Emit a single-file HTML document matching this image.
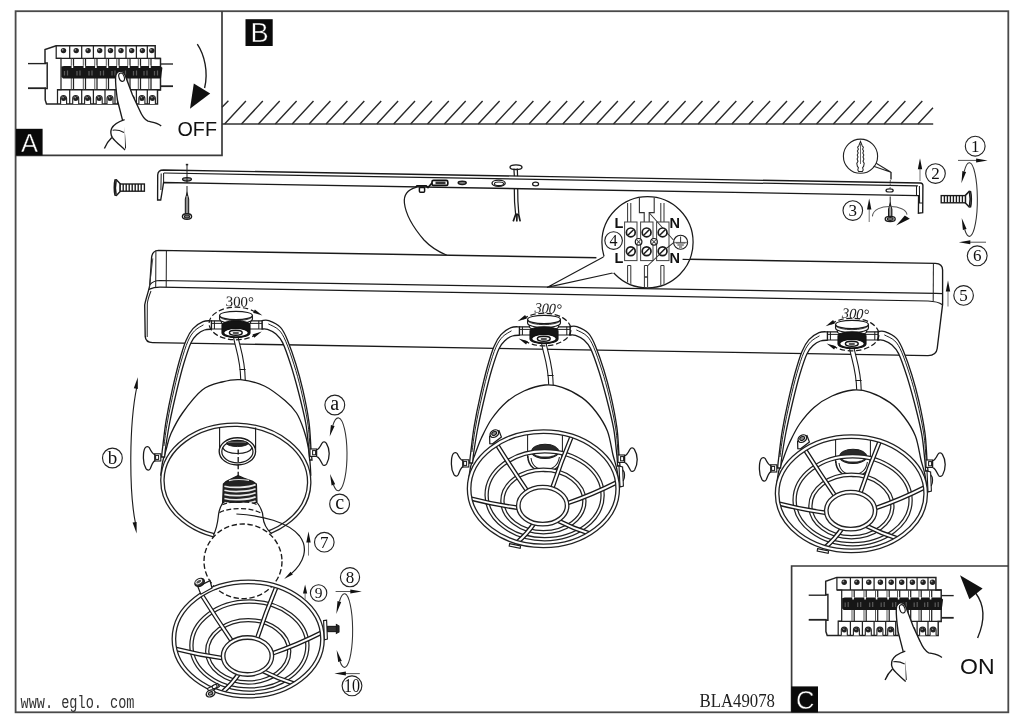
<!DOCTYPE html>
<html lang="en">
<head>
<meta charset="utf-8">
<title>BLA49078 assembly</title>
<style>
html,body{margin:0;padding:0;background:#fff;}
body{width:1024px;height:724px;overflow:hidden;font-family:"Liberation Sans",sans-serif;}
svg{display:block;}
</style>
</head>
<body>
<svg width="1024" height="724" viewBox="0 0 1024 724" style="will-change:transform">
<rect x="0" y="0" width="1024" height="724" fill="#fff"/>
<rect x="15.6" y="11.2" width="992.7" height="701.1" stroke="#4a4a4a" stroke-width="1.81" fill="none" />
<path d="M222,11 V155.3 H15.6" stroke="#3a3a3a" stroke-width="1.69" fill="none" />
<path d="M791.6,712 V566 H1008.3" stroke="#3a3a3a" stroke-width="1.69" fill="none" />
<rect x="16" y="128.8" width="26.6" height="26.6" stroke="none" stroke-width="0" fill="#0a0a0a" />
<text x="29.5" y="151.6" font-family="&quot;Liberation Sans&quot;, sans-serif" font-size="25.5" text-anchor="middle" fill="#fff" font-weight="normal" font-style="normal" stroke="#0a0a0a" stroke-width="0.45">A</text>
<rect x="245.5" y="19.2" width="27.2" height="26.8" stroke="none" stroke-width="0" fill="#0a0a0a" />
<text x="259.6" y="42.2" font-family="&quot;Liberation Sans&quot;, sans-serif" font-size="27.2" text-anchor="middle" fill="#fff" font-weight="normal" font-style="normal" stroke="#0a0a0a" stroke-width="0.45">B</text>
<rect x="791.2" y="686.4" width="26.8" height="26" stroke="none" stroke-width="0" fill="#0a0a0a" />
<text x="805.2" y="709" font-family="&quot;Liberation Sans&quot;, sans-serif" font-size="25.5" text-anchor="middle" fill="#fff" font-weight="normal" font-style="normal" stroke="#0a0a0a" stroke-width="0.45">C</text>
<text x="177.5" y="136.4" font-family="&quot;Liberation Sans&quot;, sans-serif" font-size="21" text-anchor="start" fill="#111" font-weight="normal" font-style="normal" textLength="39.5" lengthAdjust="spacingAndGlyphs" >OFF</text>
<text x="960" y="673.5" font-family="&quot;Liberation Sans&quot;, sans-serif" font-size="22.5" text-anchor="start" fill="#111" font-weight="normal" font-style="normal" textLength="34.5" lengthAdjust="spacingAndGlyphs" >ON</text>
<text x="20.5" y="707.5" font-family="&quot;Liberation Mono&quot;, monospace" font-size="17.5" text-anchor="start" fill="#333" font-weight="normal" font-style="normal" textLength="114" lengthAdjust="spacingAndGlyphs" >www. eglo. com</text>
<text x="699.5" y="706.8" font-family="&quot;Liberation Serif&quot;, serif" font-size="19" text-anchor="start" fill="#222" font-weight="normal" font-style="normal" textLength="75.5" lengthAdjust="spacingAndGlyphs" >BLA49078</text>
<line x1="222" y1="124" x2="933.2" y2="124" stroke="#333" stroke-width="1.7" />
<path d="M222,107.2 L228.4,100.8 M224.6,124 L245.9,101 M241.5,124 L262.8,101 M258.4,124 L279.7,101 M275.3,124 L296.6,101 M292.2,124 L313.5,101 M309.1,124 L330.4,101 M326.1,124 L347.4,101 M343,124 L364.3,101 M359.9,124 L381.2,101 M376.8,124 L398.1,101 M393.7,124 L415,101 M410.6,124 L431.9,101 M427.5,124 L448.8,101 M444.4,124 L465.7,101 M461.3,124 L482.6,101 M478.2,124 L499.6,101 M495.2,124 L516.5,101 M512.1,124 L533.4,101 M529,124 L550.3,101 M545.9,124 L567.2,101 M562.8,124 L584.1,101 M579.7,124 L601,101 M596.6,124 L617.9,101 M613.5,124 L634.8,101 M630.4,124 L651.7,101 M647.4,124 L668.6,101 M664.3,124 L685.6,101 M681.2,124 L702.5,101 M698.1,124 L719.4,101 M715,124 L736.3,101 M731.9,124 L753.2,101 M748.8,124 L770.1,101 M765.7,124 L787,101 M782.6,124 L803.9,101 M799.5,124 L820.8,101 M816.5,124 L837.8,101 M833.4,124 L854.7,101 M850.3,124 L871.6,101 M867.2,124 L888.5,101 M884.1,124 L905.4,101 M901,124 L922.3,101 M917.9,124 L933,107.7" stroke="#2a2a2a" stroke-width="1.41" fill="none" />
<line x1="28" y1="63.6" x2="46" y2="63.6" stroke="#222" stroke-width="1.36" />
<line x1="28" y1="88.2" x2="46" y2="88.2" stroke="#222" stroke-width="1.8" />
<line x1="159" y1="64" x2="173" y2="64" stroke="#222" stroke-width="1.36" />
<line x1="158" y1="86.2" x2="173" y2="86.2" stroke="#222" stroke-width="1.8" />
<path d="M56.2,45.8 L45,49.6 V63 H47.2 V88.6 H45.2 V100 L46.5,104 H157.5 V90 H160.5 V58.4 H155.2 V45.8 Z" stroke="#222" stroke-width="1.47" fill="#fff" />
<path d="M56.2,45.8 V58.4 H61 V89.6 H57.5 V104" stroke="#222" stroke-width="1.24" fill="none" />
<line x1="56.2" y1="58.4" x2="160.5" y2="58.4" stroke="#222" stroke-width="1.36" />
<line x1="57.5" y1="89.8" x2="160.5" y2="89.8" stroke="#222" stroke-width="1.36" />
<path d="M69.7,45.8 V58.4 M81.7,45.8 V58.4 M93.4,45.8 V58.4 M105,45.8 V58.4 M115,45.8 V58.4 M126,45.8 V58.4 M136.4,45.8 V58.4 M147.3,45.8 V58.4 M69.7,89.8 V104 M81.7,89.8 V104 M93.4,89.8 V104 M105,89.8 V104 M115,89.8 V104 M126,89.8 V104 M136.4,89.8 V104 M147.3,89.8 V104 M73.5,58.4 V66 M73.5,78 V89.8 M85.5,58.4 V66 M85.5,78 V89.8 M97,58.4 V66 M97,78 V89.8 M108.5,58.4 V66 M108.5,78 V89.8 M119,58.4 V66 M119,78 V89.8 M130,58.4 V66 M130,78 V89.8 M140.5,58.4 V66 M140.5,78 V89.8 M151,58.4 V66 M151,78 V89.8" stroke="#222" stroke-width="1.24" fill="none" />
<path d="M71.3,58.4 V66 M71.3,78 V89.8 M83.3,58.4 V66 M83.3,78 V89.8 M94.8,58.4 V66 M94.8,78 V89.8 M106.3,58.4 V66 M106.3,78 V89.8 M116.8,58.4 V66 M116.8,78 V89.8 M127.8,58.4 V66 M127.8,78 V89.8 M138.3,58.4 V66 M138.3,78 V89.8 M148.8,58.4 V66 M148.8,78 V89.8" stroke="#444" stroke-width="0.9" fill="none" />
<path d="M61.4,66.6 L64,66 H160 L162.4,67.8 L161,78.4 H63 L61.4,76.8 Z" stroke="none" stroke-width="0" fill="#161616" />
<path d="M64.5,71 v4.5 M67.5,70.5 v5 M77,71 v4.5 M80,70.5 v5 M89,71 v4.5 M92,70.5 v5 M100.5,71 v4.5 M103.5,70.5 v5 M112,71 v4.5 M115,70.5 v5 M122.5,71 v4.5 M125.5,70.5 v5 M133.5,71 v4.5 M136.5,70.5 v5 M144,71 v4.5 M147,70.5 v5 M154.5,71 v4.5 M157.5,70.5 v5" stroke="#5a5a5a" stroke-width="1.24" fill="none" />
<path d="M72.4,65.4 v2.6 M84.4,65.4 v2.6 M95.9,65.4 v2.6 M107.4,65.4 v2.6 M117.9,65.4 v2.6 M128.9,65.4 v2.6 M139.4,65.4 v2.6 M149.9,65.4 v2.6" stroke="#fff" stroke-width="1.6" fill="none" />
<circle cx="63.5" cy="50.6" r="2.7" stroke="none" stroke-width="0" fill="#222" />
<circle cx="62.7" cy="49.8" r="0.9" stroke="none" stroke-width="0" fill="#999" />
<circle cx="76.2" cy="50.6" r="2.7" stroke="none" stroke-width="0" fill="#222" />
<circle cx="75.4" cy="49.8" r="0.9" stroke="none" stroke-width="0" fill="#999" />
<circle cx="88.1" cy="50.6" r="2.7" stroke="none" stroke-width="0" fill="#222" />
<circle cx="87.3" cy="49.8" r="0.9" stroke="none" stroke-width="0" fill="#999" />
<circle cx="99.7" cy="50.6" r="2.7" stroke="none" stroke-width="0" fill="#222" />
<circle cx="98.9" cy="49.8" r="0.9" stroke="none" stroke-width="0" fill="#999" />
<circle cx="110.5" cy="50.6" r="2.7" stroke="none" stroke-width="0" fill="#222" />
<circle cx="109.7" cy="49.8" r="0.9" stroke="none" stroke-width="0" fill="#999" />
<circle cx="121" cy="50.6" r="2.7" stroke="none" stroke-width="0" fill="#222" />
<circle cx="120.2" cy="49.8" r="0.9" stroke="none" stroke-width="0" fill="#999" />
<circle cx="131.7" cy="50.6" r="2.7" stroke="none" stroke-width="0" fill="#222" />
<circle cx="130.9" cy="49.8" r="0.9" stroke="none" stroke-width="0" fill="#999" />
<circle cx="142.4" cy="50.6" r="2.7" stroke="none" stroke-width="0" fill="#222" />
<circle cx="141.6" cy="49.8" r="0.9" stroke="none" stroke-width="0" fill="#999" />
<circle cx="151.8" cy="50.6" r="2.7" stroke="none" stroke-width="0" fill="#222" />
<circle cx="150.9" cy="49.8" r="0.9" stroke="none" stroke-width="0" fill="#999" />
<path d="M60.6,104 V98.5 a3,3 0 0 1 6,0 V104" stroke="#222" stroke-width="1.13" fill="#fff" />
<circle cx="63.6" cy="98.4" r="2.5" stroke="none" stroke-width="0" fill="#222" />
<circle cx="63.1" cy="97.6" r="0.8" stroke="none" stroke-width="0" fill="#999" />
<path d="M72.7,104 V98.5 a3,3 0 0 1 6,0 V104" stroke="#222" stroke-width="1.13" fill="#fff" />
<circle cx="75.7" cy="98.4" r="2.5" stroke="none" stroke-width="0" fill="#222" />
<circle cx="75.2" cy="97.6" r="0.8" stroke="none" stroke-width="0" fill="#999" />
<path d="M84.6,104 V98.5 a3,3 0 0 1 6,0 V104" stroke="#222" stroke-width="1.13" fill="#fff" />
<circle cx="87.6" cy="98.4" r="2.5" stroke="none" stroke-width="0" fill="#222" />
<circle cx="87.1" cy="97.6" r="0.8" stroke="none" stroke-width="0" fill="#999" />
<path d="M96.2,104 V98.5 a3,3 0 0 1 6,0 V104" stroke="#222" stroke-width="1.13" fill="#fff" />
<circle cx="99.2" cy="98.4" r="2.5" stroke="none" stroke-width="0" fill="#222" />
<circle cx="98.7" cy="97.6" r="0.8" stroke="none" stroke-width="0" fill="#999" />
<path d="M107,104 V98.5 a3,3 0 0 1 6,0 V104" stroke="#222" stroke-width="1.13" fill="#fff" />
<circle cx="110" cy="98.4" r="2.5" stroke="none" stroke-width="0" fill="#222" />
<circle cx="109.5" cy="97.6" r="0.8" stroke="none" stroke-width="0" fill="#999" />
<path d="M117.5,104 V98.5 a3,3 0 0 1 6,0 V104" stroke="#222" stroke-width="1.13" fill="#fff" />
<circle cx="120.5" cy="98.4" r="2.5" stroke="none" stroke-width="0" fill="#222" />
<circle cx="120" cy="97.6" r="0.8" stroke="none" stroke-width="0" fill="#999" />
<path d="M128.2,104 V98.5 a3,3 0 0 1 6,0 V104" stroke="#222" stroke-width="1.13" fill="#fff" />
<circle cx="131.2" cy="98.4" r="2.5" stroke="none" stroke-width="0" fill="#222" />
<circle cx="130.7" cy="97.6" r="0.8" stroke="none" stroke-width="0" fill="#999" />
<path d="M138.9,104 V98.5 a3,3 0 0 1 6,0 V104" stroke="#222" stroke-width="1.13" fill="#fff" />
<circle cx="141.9" cy="98.4" r="2.5" stroke="none" stroke-width="0" fill="#222" />
<circle cx="141.4" cy="97.6" r="0.8" stroke="none" stroke-width="0" fill="#999" />
<path d="M149.4,104 V98.5 a3,3 0 0 1 6,0 V104" stroke="#222" stroke-width="1.13" fill="#fff" />
<circle cx="152.4" cy="98.4" r="2.5" stroke="none" stroke-width="0" fill="#222" />
<circle cx="151.9" cy="97.6" r="0.8" stroke="none" stroke-width="0" fill="#999" />
<path d="M118.2,72.6 C119.5,70.4 123,70.6 124.4,73.2 L132.5,95 L139.5,110 C142,116 144.5,119.5 148,121.2 C152.5,122.3 157.5,122.6 161.2,126 L161,150 L126,150 L125.2,143 C124.6,134 123.6,127 122.4,119.6 L117.4,100 C116,90 115.4,82 115.6,77.4 C115.8,75 116.8,73.6 118.2,72.6 Z" stroke="none" stroke-width="0" fill="#fff" />
<path d="M125.4,148.5 C125,137 123.6,127 122.4,119.6 L117.4,100 C116,90 115.4,82 115.6,77.4 C115.8,73 117.5,71.2 120.2,71.2 C123,71.2 124,72.6 125,75 L132.5,95 L139.5,110 C142,116 144.5,119.5 148,121.2 C152.5,122.3 157.5,122.6 161.2,126" stroke="#1a1a1a" stroke-width="1.36" fill="none" />
<ellipse cx="121.6" cy="77.2" rx="2.6" ry="4.3" stroke="#1a1a1a" stroke-width="1.13" fill="#fff" transform="rotate(-18 121.6 77.2)" />
<path d="M124.6,119.6 C119,121.5 113.5,124.5 111.6,128.5 C110.4,131.5 110.6,134.6 112.4,137.6 C115.5,142 121,146 125,150" stroke="#1a1a1a" stroke-width="1.36" fill="#fff" />
<path d="M112.6,130.2 C116.5,129.6 120.5,130.6 124,132.4" stroke="#1a1a1a" stroke-width="1.13" fill="none" />
<path d="M111.8,137.4 C108.5,140.5 106,144.5 104.4,148.4" stroke="#1a1a1a" stroke-width="1.36" fill="none" />
<path d="M197.3,44.2 C204.5,55 208.5,72 204.6,88" stroke="#1a1a1a" stroke-width="1.36" fill="none" />
<polygon points="193.8,83.6 210.2,93.6 190,108.8" fill="#111"/>
<g transform="translate(780.7,531.6)">
<line x1="28" y1="63.6" x2="46" y2="63.6" stroke="#222" stroke-width="1.36" />
<line x1="28" y1="88.2" x2="46" y2="88.2" stroke="#222" stroke-width="1.8" />
<line x1="159" y1="64" x2="173" y2="64" stroke="#222" stroke-width="1.36" />
<line x1="158" y1="86.2" x2="173" y2="86.2" stroke="#222" stroke-width="1.8" />
<path d="M56.2,45.8 L45,49.6 V63 H47.2 V88.6 H45.2 V100 L46.5,104 H157.5 V90 H160.5 V58.4 H155.2 V45.8 Z" stroke="#222" stroke-width="1.47" fill="#fff" />
<path d="M56.2,45.8 V58.4 H61 V89.6 H57.5 V104" stroke="#222" stroke-width="1.24" fill="none" />
<line x1="56.2" y1="58.4" x2="160.5" y2="58.4" stroke="#222" stroke-width="1.36" />
<line x1="57.5" y1="89.8" x2="160.5" y2="89.8" stroke="#222" stroke-width="1.36" />
<path d="M69.7,45.8 V58.4 M81.7,45.8 V58.4 M93.4,45.8 V58.4 M105,45.8 V58.4 M115,45.8 V58.4 M126,45.8 V58.4 M136.4,45.8 V58.4 M147.3,45.8 V58.4 M69.7,89.8 V104 M81.7,89.8 V104 M93.4,89.8 V104 M105,89.8 V104 M115,89.8 V104 M126,89.8 V104 M136.4,89.8 V104 M147.3,89.8 V104 M73.5,58.4 V66 M73.5,78 V89.8 M85.5,58.4 V66 M85.5,78 V89.8 M97,58.4 V66 M97,78 V89.8 M108.5,58.4 V66 M108.5,78 V89.8 M119,58.4 V66 M119,78 V89.8 M130,58.4 V66 M130,78 V89.8 M140.5,58.4 V66 M140.5,78 V89.8 M151,58.4 V66 M151,78 V89.8" stroke="#222" stroke-width="1.24" fill="none" />
<path d="M71.3,58.4 V66 M71.3,78 V89.8 M83.3,58.4 V66 M83.3,78 V89.8 M94.8,58.4 V66 M94.8,78 V89.8 M106.3,58.4 V66 M106.3,78 V89.8 M116.8,58.4 V66 M116.8,78 V89.8 M127.8,58.4 V66 M127.8,78 V89.8 M138.3,58.4 V66 M138.3,78 V89.8 M148.8,58.4 V66 M148.8,78 V89.8" stroke="#444" stroke-width="0.9" fill="none" />
<path d="M61.4,66.6 L64,66 H160 L162.4,67.8 L161,78.4 H63 L61.4,76.8 Z" stroke="none" stroke-width="0" fill="#161616" />
<path d="M64.5,71 v4.5 M67.5,70.5 v5 M77,71 v4.5 M80,70.5 v5 M89,71 v4.5 M92,70.5 v5 M100.5,71 v4.5 M103.5,70.5 v5 M112,71 v4.5 M115,70.5 v5 M122.5,71 v4.5 M125.5,70.5 v5 M133.5,71 v4.5 M136.5,70.5 v5 M144,71 v4.5 M147,70.5 v5 M154.5,71 v4.5 M157.5,70.5 v5" stroke="#5a5a5a" stroke-width="1.24" fill="none" />
<path d="M72.4,65.4 v2.6 M84.4,65.4 v2.6 M95.9,65.4 v2.6 M107.4,65.4 v2.6 M117.9,65.4 v2.6 M128.9,65.4 v2.6 M139.4,65.4 v2.6 M149.9,65.4 v2.6" stroke="#fff" stroke-width="1.6" fill="none" />
<circle cx="63.5" cy="50.6" r="2.7" stroke="none" stroke-width="0" fill="#222" />
<circle cx="62.7" cy="49.8" r="0.9" stroke="none" stroke-width="0" fill="#999" />
<circle cx="76.2" cy="50.6" r="2.7" stroke="none" stroke-width="0" fill="#222" />
<circle cx="75.4" cy="49.8" r="0.9" stroke="none" stroke-width="0" fill="#999" />
<circle cx="88.1" cy="50.6" r="2.7" stroke="none" stroke-width="0" fill="#222" />
<circle cx="87.3" cy="49.8" r="0.9" stroke="none" stroke-width="0" fill="#999" />
<circle cx="99.7" cy="50.6" r="2.7" stroke="none" stroke-width="0" fill="#222" />
<circle cx="98.9" cy="49.8" r="0.9" stroke="none" stroke-width="0" fill="#999" />
<circle cx="110.5" cy="50.6" r="2.7" stroke="none" stroke-width="0" fill="#222" />
<circle cx="109.7" cy="49.8" r="0.9" stroke="none" stroke-width="0" fill="#999" />
<circle cx="121" cy="50.6" r="2.7" stroke="none" stroke-width="0" fill="#222" />
<circle cx="120.2" cy="49.8" r="0.9" stroke="none" stroke-width="0" fill="#999" />
<circle cx="131.7" cy="50.6" r="2.7" stroke="none" stroke-width="0" fill="#222" />
<circle cx="130.9" cy="49.8" r="0.9" stroke="none" stroke-width="0" fill="#999" />
<circle cx="142.4" cy="50.6" r="2.7" stroke="none" stroke-width="0" fill="#222" />
<circle cx="141.6" cy="49.8" r="0.9" stroke="none" stroke-width="0" fill="#999" />
<circle cx="151.8" cy="50.6" r="2.7" stroke="none" stroke-width="0" fill="#222" />
<circle cx="150.9" cy="49.8" r="0.9" stroke="none" stroke-width="0" fill="#999" />
<path d="M60.6,104 V98.5 a3,3 0 0 1 6,0 V104" stroke="#222" stroke-width="1.13" fill="#fff" />
<circle cx="63.6" cy="98.4" r="2.5" stroke="none" stroke-width="0" fill="#222" />
<circle cx="63.1" cy="97.6" r="0.8" stroke="none" stroke-width="0" fill="#999" />
<path d="M72.7,104 V98.5 a3,3 0 0 1 6,0 V104" stroke="#222" stroke-width="1.13" fill="#fff" />
<circle cx="75.7" cy="98.4" r="2.5" stroke="none" stroke-width="0" fill="#222" />
<circle cx="75.2" cy="97.6" r="0.8" stroke="none" stroke-width="0" fill="#999" />
<path d="M84.6,104 V98.5 a3,3 0 0 1 6,0 V104" stroke="#222" stroke-width="1.13" fill="#fff" />
<circle cx="87.6" cy="98.4" r="2.5" stroke="none" stroke-width="0" fill="#222" />
<circle cx="87.1" cy="97.6" r="0.8" stroke="none" stroke-width="0" fill="#999" />
<path d="M96.2,104 V98.5 a3,3 0 0 1 6,0 V104" stroke="#222" stroke-width="1.13" fill="#fff" />
<circle cx="99.2" cy="98.4" r="2.5" stroke="none" stroke-width="0" fill="#222" />
<circle cx="98.7" cy="97.6" r="0.8" stroke="none" stroke-width="0" fill="#999" />
<path d="M107,104 V98.5 a3,3 0 0 1 6,0 V104" stroke="#222" stroke-width="1.13" fill="#fff" />
<circle cx="110" cy="98.4" r="2.5" stroke="none" stroke-width="0" fill="#222" />
<circle cx="109.5" cy="97.6" r="0.8" stroke="none" stroke-width="0" fill="#999" />
<path d="M117.5,104 V98.5 a3,3 0 0 1 6,0 V104" stroke="#222" stroke-width="1.13" fill="#fff" />
<circle cx="120.5" cy="98.4" r="2.5" stroke="none" stroke-width="0" fill="#222" />
<circle cx="120" cy="97.6" r="0.8" stroke="none" stroke-width="0" fill="#999" />
<path d="M128.2,104 V98.5 a3,3 0 0 1 6,0 V104" stroke="#222" stroke-width="1.13" fill="#fff" />
<circle cx="131.2" cy="98.4" r="2.5" stroke="none" stroke-width="0" fill="#222" />
<circle cx="130.7" cy="97.6" r="0.8" stroke="none" stroke-width="0" fill="#999" />
<path d="M138.9,104 V98.5 a3,3 0 0 1 6,0 V104" stroke="#222" stroke-width="1.13" fill="#fff" />
<circle cx="141.9" cy="98.4" r="2.5" stroke="none" stroke-width="0" fill="#222" />
<circle cx="141.4" cy="97.6" r="0.8" stroke="none" stroke-width="0" fill="#999" />
<path d="M149.4,104 V98.5 a3,3 0 0 1 6,0 V104" stroke="#222" stroke-width="1.13" fill="#fff" />
<circle cx="152.4" cy="98.4" r="2.5" stroke="none" stroke-width="0" fill="#222" />
<circle cx="151.9" cy="97.6" r="0.8" stroke="none" stroke-width="0" fill="#999" />
<path d="M118.2,72.6 C119.5,70.4 123,70.6 124.4,73.2 L132.5,95 L139.5,110 C142,116 144.5,119.5 148,121.2 C152.5,122.3 157.5,122.6 161.2,126 L161,150 L126,150 L125.2,143 C124.6,134 123.6,127 122.4,119.6 L117.4,100 C116,90 115.4,82 115.6,77.4 C115.8,75 116.8,73.6 118.2,72.6 Z" stroke="none" stroke-width="0" fill="#fff" />
<path d="M125.4,148.5 C125,137 123.6,127 122.4,119.6 L117.4,100 C116,90 115.4,82 115.6,77.4 C115.8,73 117.5,71.2 120.2,71.2 C123,71.2 124,72.6 125,75 L132.5,95 L139.5,110 C142,116 144.5,119.5 148,121.2 C152.5,122.3 157.5,122.6 161.2,126" stroke="#1a1a1a" stroke-width="1.36" fill="none" />
<ellipse cx="121.6" cy="77.2" rx="2.6" ry="4.3" stroke="#1a1a1a" stroke-width="1.13" fill="#fff" transform="rotate(-18 121.6 77.2)" />
<path d="M124.6,119.6 C119,121.5 113.5,124.5 111.6,128.5 C110.4,131.5 110.6,134.6 112.4,137.6 C115.5,142 121,146 125,150" stroke="#1a1a1a" stroke-width="1.36" fill="#fff" />
<path d="M112.6,130.2 C116.5,129.6 120.5,130.6 124,132.4" stroke="#1a1a1a" stroke-width="1.13" fill="none" />
<path d="M111.8,137.4 C108.5,140.5 106,144.5 104.4,148.4" stroke="#1a1a1a" stroke-width="1.36" fill="none" />
</g>
<path d="M977.6,638 C984.5,622 985.5,606 975.6,593" stroke="#1a1a1a" stroke-width="1.36" fill="none" />
<polygon points="960,575.3 982.6,588.4 969.4,599.2" fill="#111"/>
<ellipse cx="516" cy="167.2" rx="6" ry="2.3" stroke="#1a1a1a" stroke-width="1.36" fill="#fff" />
<path d="M513.9,168.6 L514.4,177 M517.3,168.6 L517.6,177" stroke="#1a1a1a" stroke-width="1.24" fill="none" />
<path d="M163.5,170 L920.4,183 Q922.9,183.2 922.9,185.6 L922.7,212.6 L918.4,213.2 L918.6,195.6 L163.6,182.5 L162.4,190 L160.7,200 L157.6,200 L157.7,175 Q157.9,170 163.5,170 Z" stroke="#1a1a1a" stroke-width="1.36" fill="#fff" />
<path d="M163.8,173 L917.9,185.9" stroke="#1a1a1a" stroke-width="1.24" fill="none" />
<path d="M163.6,173 V182.5 M161.2,173.4 L160.9,190" stroke="#1a1a1a" stroke-width="1.02" fill="none" />
<path d="M916.5,186 V195.6 M919.4,186 L919.6,203 M918.6,203 h4.2" stroke="#1a1a1a" stroke-width="1.02" fill="none" />
<ellipse cx="187" cy="179.3" rx="4.4" ry="1.7" stroke="#1a1a1a" stroke-width="1.36" fill="#999" />
<ellipse cx="462.2" cy="182.8" rx="4" ry="1.6" stroke="#1a1a1a" stroke-width="1.47" fill="#888" />
<ellipse cx="498.6" cy="183.2" rx="6.6" ry="3.1" stroke="#1a1a1a" stroke-width="1.36" fill="#fff" />
<ellipse cx="499" cy="183.8" rx="4.6" ry="1.8" stroke="#1a1a1a" stroke-width="1.02" fill="#fff" />
<ellipse cx="535.6" cy="184" rx="3" ry="1.9" stroke="#1a1a1a" stroke-width="1.24" fill="#fff" />
<ellipse cx="889.6" cy="190.4" rx="3.6" ry="1.6" stroke="#1a1a1a" stroke-width="1.24" fill="#fff" />
<rect x="432" y="180.4" width="15.8" height="5" stroke="#111" stroke-width="1.69" fill="#fff" rx="1.5"/>
<rect x="435.5" y="181.6" width="10" height="2.5" stroke="none" stroke-width="0" fill="#333" />
<path d="M415.6,187.6 L417,185.8 H426.2 L428,187.6 L432,183" stroke="#111" stroke-width="1.69" fill="none" />
<rect x="419.4" y="187.4" width="5.2" height="4.8" stroke="#111" stroke-width="1.47" fill="#fff" rx="1"/>
<path d="M416,187.4 C407,190 403.6,196 404.4,203 C405.4,212 412,226 424,240 C431,247.5 439,252 446.8,255.2" stroke="#1a1a1a" stroke-width="1.24" fill="none" />
<path d="M514.3,188.6 C514.2,198 514.6,206 515.6,214 M517.7,188.6 C517.6,198 518,206 518.8,213.6" stroke="#1a1a1a" stroke-width="1.24" fill="none" />
<path d="M516,213.5 L513.2,221.4 M517,213.5 L516.8,221.6 M518.4,213.5 L520.2,221.4" stroke="#1a1a1a" stroke-width="1.69" fill="none" />
<g transform="translate(114.4,187.6) scale(1,1)">
<path d="M0.6,-7.6 C-0.4,-4 -0.4,4 0.6,7.6 L2,7.8 L5.8,3.8 L5.8,-3.8 L2,-7.8 Z" stroke="#1a1a1a" stroke-width="1.47" fill="#fff" />
<path d="M1.7,-7 C1,-3.5 1,3.5 1.7,7" stroke="#1a1a1a" stroke-width="1.58" fill="none" />
<rect x="5.8" y="-3.6" width="24.2" height="7.2" stroke="#1a1a1a" stroke-width="1.36" fill="#fff" />
<path d="M8.8,-3.6 v7.2 M11.8,-3.6 v7.2 M14.8,-3.6 v7.2 M17.8,-3.6 v7.2 M20.8,-3.6 v7.2 M23.8,-3.6 v7.2 M26.8,-3.6 v7.2" stroke="#1a1a1a" stroke-width="1.36" fill="none" />
</g>
<g transform="translate(971.2,199.2) scale(-1,1)">
<path d="M0.6,-7.6 C-0.4,-4 -0.4,4 0.6,7.6 L2,7.8 L5.8,3.8 L5.8,-3.8 L2,-7.8 Z" stroke="#1a1a1a" stroke-width="1.47" fill="#fff" />
<path d="M1.7,-7 C1,-3.5 1,3.5 1.7,7" stroke="#1a1a1a" stroke-width="1.58" fill="none" />
<rect x="5.8" y="-3.6" width="24.2" height="7.2" stroke="#1a1a1a" stroke-width="1.36" fill="#fff" />
<path d="M8.8,-3.6 v7.2 M11.8,-3.6 v7.2 M14.8,-3.6 v7.2 M17.8,-3.6 v7.2 M20.8,-3.6 v7.2 M23.8,-3.6 v7.2 M26.8,-3.6 v7.2" stroke="#1a1a1a" stroke-width="1.36" fill="none" />
</g>
<line x1="187" y1="164.4" x2="187" y2="183" stroke="#222" stroke-width="1.02" />
<line x1="185.8" y1="164.6" x2="188.2" y2="164.6" stroke="#222" stroke-width="1.58" />
<line x1="187" y1="186" x2="187" y2="195" stroke="#222" stroke-width="1.02" />
<path d="M187,193 L188.7,199 V214 H185.3 V199 Z" stroke="#1a1a1a" stroke-width="1.02" fill="#555" />
<line x1="187" y1="196" x2="187" y2="213.5" stroke="#ddd" stroke-width="0.9" />
<ellipse cx="187" cy="216.5" rx="4.6" ry="2.7" stroke="#1a1a1a" stroke-width="1.36" fill="#fff" />
<ellipse cx="187" cy="216.5" rx="2.6" ry="1.5" stroke="#1a1a1a" stroke-width="1.02" fill="#777" />
<circle cx="860.5" cy="156.2" r="17.1" stroke="#222" stroke-width="1.13" fill="#fff" />
<path d="M860.5,141.4 L862.3,146 L863.4,147.2 L862.6,149.2 L863.6,151 L862.8,153 L863.8,155 L863,157 L863.9,159 L863,161.2 L864.2,163.4 L863.6,166.4 L862.6,167.6 L863.2,170 L862.4,171.4 H858.6 L857.8,170 L858.4,167.6 L857.4,166.4 L856.8,163.4 L858,161.2 L857.1,159 L858,157 L857.2,155 L858.2,153 L857.4,151 L858.4,149.2 L857.6,147.2 L858.7,146 Z" stroke="#222" stroke-width="1.02" fill="#fff" />
<line x1="860.5" y1="143.5" x2="860.5" y2="164" stroke="#555" stroke-width="0.9" />
<path d="M873.6,166.2 L891,172.2 L876.2,163.2" stroke="#222" stroke-width="1.02" fill="none" />
<line x1="891" y1="172" x2="891" y2="179.4" stroke="#222" stroke-width="1.36" />
<line x1="890.3" y1="180" x2="890.1" y2="188.6" stroke="#444" stroke-width="0.9" stroke-dasharray="2 1.5"/>
<line x1="890.2" y1="196.4" x2="890.2" y2="205.4" stroke="#222" stroke-width="1.02" />
<path d="M890.2,203.4 L891.9,209.4 V216.5 H888.5 V209.4 Z" stroke="#1a1a1a" stroke-width="1.02" fill="#555" />
<line x1="890.2" y1="206.4" x2="890.2" y2="216" stroke="#ddd" stroke-width="0.9" />
<ellipse cx="890.2" cy="219" rx="5" ry="2.6" stroke="#1a1a1a" stroke-width="1.36" fill="#fff" />
<ellipse cx="890.2" cy="219" rx="3" ry="1.4" stroke="#1a1a1a" stroke-width="1.02" fill="#777" />
<path d="M158.5,250.4 L935.4,263.4 Q942.6,263.8 942.6,270 L942.6,304.4 L937.2,348.5 Q936.4,355.4 928,355.6 L152.5,342.6 Q145.6,342.4 145.2,336.4 L144.7,305 C146,298 148.8,291 149.8,285 L151.6,257.5 Q152.4,250.6 158.5,250.4 Z" stroke="#1a1a1a" stroke-width="1.36" fill="#fff" />
<path d="M150,284.6 C152,282 155,280.6 160,280.5 L936,293.4 L942.6,293.6" stroke="#1a1a1a" stroke-width="1.24" fill="none" />
<path d="M148.8,289.4 C152,288 155,287.2 160,287.2 L928,301 Q938,301.4 942.4,304.8" stroke="#1a1a1a" stroke-width="1.24" fill="none" />
<path d="M155.9,250.6 L155.7,287.2 M166.4,250.6 L166.2,287.3" stroke="#222" stroke-width="1.02" fill="none" />
<path d="M933.4,263.4 L933.2,301" stroke="#222" stroke-width="1.02" fill="none" />
<path d="M152.8,258.4 L149.4,287" stroke="#333" stroke-width="0.9" fill="none" />
<path d="M151,291 C149,296 147.6,300 147.3,304 L147.2,337" stroke="#222" stroke-width="1.02" fill="none" />
<path d="M596.4,257.8 L604,257.9" stroke="#fff" stroke-width="2.6" fill="none" />
<g transform="translate(-308,-6)">
<path d="M543.6,341 C544.6,352 550.6,362 551,386" stroke="#1a1a1a" stroke-width="5.6" fill="none"/><path d="M543.6,341 C544.6,352 550.6,362 551,386" stroke="#fff" stroke-width="3.4" fill="none"/>
<line x1="547.6" y1="375.6" x2="553.6" y2="375.4" stroke="#1a1a1a" stroke-width="1.02" />
<path d="M468.8,481 C469.1,478.8 469.7,472.2 470.6,468 C471.5,463.8 472.6,460.7 474,456 C475.4,451.3 476.2,445.8 479,439.6 C481.8,433.4 485.3,426.3 490.5,419 C495.7,411.7 503.6,401.2 510.2,396 C516.8,390.8 523.6,389.7 530,388 C536.4,386.3 541.4,385 548.5,385.7 C555.6,386.4 565,388.5 572.4,392 C579.8,395.5 587.6,402 593,406.5 C598.4,411 601.4,414.2 604.5,419 C607.6,423.8 609.8,430 611.7,435.5 C613.6,441 615,446.6 616,452 C617,457.4 617.5,463.2 618,468 C618.5,472.8 618.7,478.8 618.8,481 Z" stroke="#1a1a1a" stroke-width="1.3" fill="#fff" />
<path d="M519.5,326.8 C518.1,326.9 514.1,326.3 511,327.6 C507.9,328.9 503.8,331.5 501,334.6 C498.2,337.7 496.3,340.9 494,346.4 C491.7,351.9 489.5,359.3 487.2,367.5 C484.9,375.7 482.5,385.9 480.3,395.7 C478.1,405.5 475.8,416.8 474.2,426.2 C472.6,435.6 471.6,445.9 470.8,452 C470,458.1 469.8,461.2 469.6,463 L472.6,463 C472.8,461.2 472.9,457.8 473.8,452 C474.7,446.2 476,437.2 477.8,428 C479.6,418.8 482.5,406.2 484.8,396.5 C487.1,386.8 489.4,377.5 491.8,369.5 C494.2,361.5 496.7,353.6 499,348.7 C501.3,343.8 503.2,342.3 505.4,340.2 C507.6,338.1 510,336.8 512.4,336 C514.8,335.2 518.3,335.3 519.5,335.2 Z" stroke="#1a1a1a" stroke-width="1.3" fill="#fff" />
<path d="M511.5,330.8 C510.1,331.8 505.3,334 502.7,336.7 C500.1,339.5 498.2,342 495.9,347.3 C493.6,352.5 491.3,360.1 488.9,368.3 C486.6,376.4 484.2,386.2 482,396 C479.8,405.8 477.2,417.6 475.6,426.9 C473.9,436.2 472.5,447.8 471.9,452" stroke="#1a1a1a" stroke-width="0.96" fill="none" />
<path d="M570,326.6 C571.1,326.6 573.7,325.5 576.8,326.6 C579.9,327.7 585.4,330.1 588.5,333.4 C591.6,336.7 593.1,340.3 595.6,346.4 C598.1,352.5 601.3,361.6 603.8,369.8 C606.3,378 608.6,386.1 610.8,395.7 C613,405.3 615.5,417.7 616.9,427.6 C618.3,437.5 618.5,448.6 619,455 C619.5,461.4 619.8,464.2 620,466 L617.6,466 C617.5,464.2 617.5,461.3 616.8,455 C616.1,448.7 615.4,438.1 613.6,428.4 C611.8,418.7 608.7,406.6 606.2,397 C603.7,387.4 601.4,379.1 598.8,371 C596.2,362.9 593.1,353.8 590.6,348.6 C588.1,343.4 586.5,342.2 584,340 C581.5,337.8 577.8,336.2 575.5,335.4 C573.2,334.6 570.9,335.1 570,335 Z" stroke="#1a1a1a" stroke-width="1.3" fill="#fff" />
<path d="M576.3,329.9 C578.1,330.9 583.9,333 586.8,335.9 C589.7,338.8 591.2,341.5 593.7,347.2 C596.2,353 599.3,362.1 601.9,370.3 C604.5,378.4 606.8,386.6 609.1,396.2 C611.3,405.8 614.1,418.1 615.6,427.9 C617.2,437.7 617.7,450.5 618.2,455" stroke="#1a1a1a" stroke-width="0.96" fill="none" />
<path d="M519.5,326.8 H570 V335 H519.5 Z" stroke="#1a1a1a" stroke-width="1.24" fill="#fff" />
<line x1="519.5" y1="329.4" x2="570" y2="329.4" stroke="#1a1a1a" stroke-width="0.96" />
<path d="M522.4,326.8 V335 M566.8,326.8 V335" stroke="#1a1a1a" stroke-width="1.02" fill="none" />
<g transform="translate(0,2)">
<path d="M529.4,323.4 V326.4 A14.6,4.4 0 0 0 558.6,326.4 V323.4" stroke="#1a1a1a" stroke-width="1.13" fill="#fff" />
<path d="M527.6,319.4 V323 A16.4,4.6 0 0 0 560.4,323 V319.4" stroke="#1a1a1a" stroke-width="1.24" fill="#fff" />
<ellipse cx="544" cy="319.4" rx="16.4" ry="4.1" stroke="#1a1a1a" stroke-width="1.24" fill="#fff" />
<path d="M528.2,321.2 A16.2,4.4 0 0 0 559.8,321.2" stroke="#1a1a1a" stroke-width="0.9" fill="none" />
</g>
<path d="M530,331 V339 A14,4.6 0 0 0 558,339 V331 A14,4.2 0 0 0 530,331 Z" stroke="#111" stroke-width="1.13" fill="#141414" />
<ellipse cx="544" cy="338.7" rx="12.4" ry="4.3" stroke="#111" stroke-width="1.36" fill="#fff" />
<ellipse cx="543.8" cy="338.7" rx="6.4" ry="2.5" stroke="#111" stroke-width="1.47" fill="#fff" />
<ellipse cx="543.8" cy="338.9" rx="3.2" ry="1.2" stroke="none" stroke-width="0" fill="#555" />
<path d="M564.7,340 A27,16.3 0 1 1 564.7,319" stroke="#1a1a1a" stroke-width="1.24" fill="none" stroke-dasharray="5.5 2.6"/>
<polygon points="570.4,321.6 561.1,318.8 562.9,315.5" fill="#111"/>
<polygon points="569.8,337.6 562.3,343.7 560.5,340.4" fill="#111"/>
<rect x="462.6" y="459.8" width="6.2" height="7.2" stroke="#1a1a1a" stroke-width="1.13" fill="#fff" />
<rect x="463.6" y="461.4" width="3" height="4" stroke="#1a1a1a" stroke-width="1.02" fill="#fff" />
<path d="M462.8,460.6 C460.4,460 458.8,456.6 457.4,453.8 C456.4,452 454.2,452.2 453,454 C451.2,457.2 451.4,460.6 451.4,464.2 C451.4,468 452.2,471.6 454,474.6 C455.2,476.4 457.2,476.6 458.2,474.8 C459.8,471.6 460.4,467.6 462.8,466.8 Z" stroke="#1a1a1a" stroke-width="1.3" fill="#fff" />
<rect x="618" y="455" width="6.6" height="7.4" stroke="#1a1a1a" stroke-width="1.13" fill="#fff" />
<rect x="620.6" y="456.6" width="3" height="4.2" stroke="#1a1a1a" stroke-width="1.02" fill="#fff" />
<path d="M624.6,456 C627,455.4 628.6,452 630,449.2 C631,447.4 633.2,447.6 634.4,449.4 C636.4,452.6 637.2,456 637.2,459.6 C637.2,463.4 636.4,467 634.6,470 C633.4,471.8 631.4,472 630.4,470.2 C628.8,467 627,463.2 624.6,462.4 Z" stroke="#1a1a1a" stroke-width="1.3" fill="#fff" />
<ellipse cx="543.8" cy="487.4" rx="73.4" ry="56.6" stroke="#222" stroke-width="4.6" fill="#fff" transform="rotate(1.5 543.8 487.4)"/><ellipse cx="543.8" cy="487.4" rx="73.4" ry="56.6" stroke="#fff" stroke-width="2.0" fill="none" transform="rotate(1.5 543.8 487.4)"/>
<path d="M527.6,433.6 V456 M563.6,433.6 V456" stroke="#1a1a1a" stroke-width="1.13" fill="none" />
<ellipse cx="545.4" cy="457.4" rx="18.2" ry="13.6" stroke="#1a1a1a" stroke-width="1.36" fill="#fff" />
<ellipse cx="545.4" cy="457.6" rx="15.6" ry="11.2" stroke="#1a1a1a" stroke-width="1.24" fill="#fff" />
<path d="M534,449.4 C537,445.8 553.6,445.8 556.6,449.4 C553,453.6 538,453.6 534,449.4 Z" stroke="#1a1a1a" stroke-width="0.9" fill="#222" />
<path d="M530.4,453.6 C535,461.4 556,461.4 560.4,453.6" stroke="#1a1a1a" stroke-width="1.13" fill="none" />
<path d="M536,448.2 h18" stroke="#777" stroke-width="1.02" fill="stroke-dasharray="1.2 1"" />
</g>
<line x1="238.2" y1="449.5" x2="238.2" y2="476" stroke="#1a1a1a" stroke-width="1.36" stroke-dasharray="5 2.4"/>
<path d="M238.2,475.6 L233,478 L226,481.6 L223.4,484 L222.6,503 L257,503 L256.4,484 L252.6,481.4 L243.6,478 Z" stroke="#1a1a1a" stroke-width="1.24" fill="#222" />
<path d="M224.4,486.2 C232,488.2 248,487.8 255.6,484.6 M224.4,490.3 C232,492.3 248,491.9 255.6,488.7 M224.4,494.4 C232,496.4 248,496 255.6,492.8 M224.4,498.5 C232,500.5 248,500.1 255.6,496.9 M224.4,502.6 C232,504.6 248,504.2 255.6,501" stroke="#e8e8e8" stroke-width="1.69" fill="none" />
<path d="M229,480.6 C234,479.4 243,479.4 249,480.4" stroke="#ddd" stroke-width="1.24" fill="none" />
<ellipse cx="243" cy="561.3" rx="39" ry="37.3" stroke="none" stroke-width="0" fill="#fff" />
<path d="M222.6,503 C220.4,507 219,510.6 218.6,514 C217.8,520 217.8,526 213.4,535.4 L271.6,534 C265.6,528 263.4,523 263,517 C262.8,512 260.4,507 257.4,503 Z" stroke="none" stroke-width="0" fill="#fff" />
<path d="M222.6,503 C220.4,507 219,510.6 218.6,514 C217.8,520 217.8,526 213.4,535.4" stroke="#1a1a1a" stroke-width="1.24" fill="none" />
<path d="M257.4,503 C260.4,507 262.8,512 263,517 C263.4,523 265.6,528 271.6,534" stroke="#1a1a1a" stroke-width="1.24" fill="none" />
<path d="M222.4,504.6 C232,500.6 249,500.6 258,505" stroke="#1a1a1a" stroke-width="1.24" fill="none" stroke-dasharray="5 2.4"/>
<path d="M219.4,512.6 C230,507 252,507 262.6,514" stroke="#1a1a1a" stroke-width="1.24" fill="none" stroke-dasharray="5 2.4"/>
<ellipse cx="243" cy="561.3" rx="39" ry="37.3" stroke="#1a1a1a" stroke-width="1.36" fill="none" stroke-dasharray="5.4 2.6"/>
<g>
<rect x="327.6" y="626.4" width="9" height="5.2" stroke="#1a1a1a" stroke-width="1.13" fill="#333" />
<path d="M336.4,624.6 L339,626 V632 L336.4,633.4 Z" stroke="#1a1a1a" stroke-width="1.13" fill="#222" />
</g>
<g transform="translate(-295.2,150.3)">
<ellipse cx="544.6" cy="495.2" rx="58" ry="44" stroke="#222" stroke-width="4.4" fill="none"/><ellipse cx="544.6" cy="495.2" rx="58" ry="44" stroke="#fff" stroke-width="1.9" fill="none"/>
<ellipse cx="543.4" cy="501" rx="41" ry="31.2" stroke="#222" stroke-width="4.4" fill="none"/><ellipse cx="543.4" cy="501" rx="41" ry="31.2" stroke="#fff" stroke-width="1.9" fill="none"/>
<path d="M527.4,491.3 Q511.5,468 496.7,444.3" stroke="#1a1a1a" stroke-width="4.6" fill="none"/><path d="M527.4,491.3 Q511.5,468 496.7,444.3" stroke="#fff" stroke-width="2.0" fill="none"/>
<path d="M552.1,488.6 Q561,462 571.9,435.9" stroke="#1a1a1a" stroke-width="4.6" fill="none"/><path d="M552.1,488.6 Q561,462 571.9,435.9" stroke="#fff" stroke-width="2.0" fill="none"/>
<path d="M518.5,507.9 Q494,504.6 470.2,498.4" stroke="#1a1a1a" stroke-width="4.6" fill="none"/><path d="M518.5,507.9 Q494,504.6 470.2,498.4" stroke="#fff" stroke-width="2.0" fill="none"/>
<path d="M566.9,503.4 Q593,494.4 617.2,482.1" stroke="#1a1a1a" stroke-width="4.6" fill="none"/><path d="M566.9,503.4 Q593,494.4 617.2,482.1" stroke="#fff" stroke-width="2.0" fill="none"/>
<path d="M534.4,523.1 Q527,534 517.4,542.2" stroke="#1a1a1a" stroke-width="4.6" fill="none"/><path d="M534.4,523.1 Q527,534 517.4,542.2" stroke="#fff" stroke-width="2.0" fill="none"/>
<path d="M557.4,520.4 Q573,528.4 589.5,533.5" stroke="#1a1a1a" stroke-width="4.6" fill="none"/><path d="M557.4,520.4 Q573,528.4 589.5,533.5" stroke="#fff" stroke-width="2.0" fill="none"/>
<ellipse cx="543.4" cy="488.7" rx="74.3" ry="57.1" stroke="#222" stroke-width="4.8" fill="none"/><ellipse cx="543.4" cy="488.7" rx="74.3" ry="57.1" stroke="#fff" stroke-width="2.2" fill="none"/>
<ellipse cx="542.7" cy="505.7" rx="24.4" ry="18.5" stroke="#222" stroke-width="4.8" fill="#fff"/><ellipse cx="542.7" cy="505.7" rx="24.4" ry="18.5" stroke="#fff" stroke-width="2.2" fill="none"/>
</g>
<path d="M323.6,620.6 L326.6,620.2 L327.4,639 L324.4,639.8 Z" stroke="#1a1a1a" stroke-width="1.13" fill="#fff" />
<path d="M197.8,586.6 L210,580.6 L212,588 L200.8,594.2 Z" stroke="#1a1a1a" stroke-width="1.24" fill="#fff" />
<ellipse cx="199.6" cy="582.4" rx="5" ry="3.6" stroke="#1a1a1a" stroke-width="1.47" fill="#333" transform="rotate(-30 199.6 582.4)" />
<ellipse cx="198.8" cy="581.6" rx="3.2" ry="1.8" stroke="#fff" stroke-width="0.9" fill="#555" transform="rotate(-30 198.8 581.6)" />
<path d="M207.4,688.6 L217.6,683.4 L219.4,686.6 L209.4,692.4 Z" stroke="#1a1a1a" stroke-width="1.13" fill="#fff" />
<ellipse cx="210.6" cy="693.4" rx="4.6" ry="3.2" stroke="#1a1a1a" stroke-width="1.36" fill="#fff" transform="rotate(-25 210.6 693.4)" />
<ellipse cx="210.6" cy="693.4" rx="2.4" ry="1.5" stroke="#1a1a1a" stroke-width="1.02" fill="#999" transform="rotate(-25 210.6 693.4)" />
<ellipse cx="214.6" cy="686.6" rx="2.6" ry="1.8" stroke="#1a1a1a" stroke-width="1.13" fill="#fff" transform="rotate(-25 214.6 686.6)" />
<g transform="translate(0,0)">
<path d="M543.6,341 C544.6,352 550.6,362 551,386" stroke="#1a1a1a" stroke-width="5.6" fill="none"/><path d="M543.6,341 C544.6,352 550.6,362 551,386" stroke="#fff" stroke-width="3.4" fill="none"/>
<line x1="547.6" y1="375.6" x2="553.6" y2="375.4" stroke="#1a1a1a" stroke-width="1.02" />
<path d="M468.6,480 C469,477.7 469.7,470.3 470.8,466 C471.9,461.7 473.2,459.1 475,454.4 C476.8,449.7 478.6,443.9 481.4,438 C484.2,432.1 487.5,424.9 491.6,419 C495.7,413.1 500.6,407.1 506,402.4 C511.4,397.7 517.5,393.9 524,391 C530.5,388.1 538.7,385.6 545,385 C551.3,384.4 555.8,385.2 562,387.3 C568.2,389.4 576.3,393.5 582,397.6 C587.7,401.7 592,406.4 596.2,412 C600.4,417.6 604.6,423.8 607.4,431 C610.2,438.2 611.4,448.7 613,455 C614.6,461.3 615.9,464.5 616.8,469 C617.7,473.5 618.3,479.8 618.6,482 Z" stroke="#1a1a1a" stroke-width="1.3" fill="#fff" />
<path d="M519.5,326.8 C518.1,326.9 514.1,326.3 511,327.6 C507.9,328.9 503.8,331.5 501,334.6 C498.2,337.7 496.3,340.9 494,346.4 C491.7,351.9 489.5,359.3 487.2,367.5 C484.9,375.7 482.5,385.9 480.3,395.7 C478.1,405.5 475.8,416.8 474.2,426.2 C472.6,435.6 471.6,445.9 470.8,452 C470,458.1 469.8,461.2 469.6,463 L472.6,463 C472.8,461.2 472.9,457.8 473.8,452 C474.7,446.2 476,437.2 477.8,428 C479.6,418.8 482.5,406.2 484.8,396.5 C487.1,386.8 489.4,377.5 491.8,369.5 C494.2,361.5 496.7,353.6 499,348.7 C501.3,343.8 503.2,342.3 505.4,340.2 C507.6,338.1 510,336.8 512.4,336 C514.8,335.2 518.3,335.3 519.5,335.2 Z" stroke="#1a1a1a" stroke-width="1.3" fill="#fff" />
<path d="M511.5,330.8 C510.1,331.8 505.3,334 502.7,336.7 C500.1,339.5 498.2,342 495.9,347.3 C493.6,352.5 491.3,360.1 488.9,368.3 C486.6,376.4 484.2,386.2 482,396 C479.8,405.8 477.2,417.6 475.6,426.9 C473.9,436.2 472.5,447.8 471.9,452" stroke="#1a1a1a" stroke-width="0.96" fill="none" />
<path d="M570,326.6 C571.1,326.6 573.7,325.5 576.8,326.6 C579.9,327.7 585.4,330.1 588.5,333.4 C591.6,336.7 593.1,340.3 595.6,346.4 C598.1,352.5 601.3,361.6 603.8,369.8 C606.3,378 608.6,386.1 610.8,395.7 C613,405.3 615.5,417.7 616.9,427.6 C618.3,437.5 618.5,448.6 619,455 C619.5,461.4 619.8,464.2 620,466 L617.6,466 C617.5,464.2 617.5,461.3 616.8,455 C616.1,448.7 615.4,438.1 613.6,428.4 C611.8,418.7 608.7,406.6 606.2,397 C603.7,387.4 601.4,379.1 598.8,371 C596.2,362.9 593.1,353.8 590.6,348.6 C588.1,343.4 586.5,342.2 584,340 C581.5,337.8 577.8,336.2 575.5,335.4 C573.2,334.6 570.9,335.1 570,335 Z" stroke="#1a1a1a" stroke-width="1.3" fill="#fff" />
<path d="M576.3,329.9 C578.1,330.9 583.9,333 586.8,335.9 C589.7,338.8 591.2,341.5 593.7,347.2 C596.2,353 599.3,362.1 601.9,370.3 C604.5,378.4 606.8,386.6 609.1,396.2 C611.3,405.8 614.1,418.1 615.6,427.9 C617.2,437.7 617.7,450.5 618.2,455" stroke="#1a1a1a" stroke-width="0.96" fill="none" />
<path d="M519.5,326.8 H570 V335 H519.5 Z" stroke="#1a1a1a" stroke-width="1.24" fill="#fff" />
<line x1="519.5" y1="329.4" x2="570" y2="329.4" stroke="#1a1a1a" stroke-width="0.96" />
<path d="M522.4,326.8 V335 M566.8,326.8 V335" stroke="#1a1a1a" stroke-width="1.02" fill="none" />
<g transform="translate(0,0)">
<path d="M529.4,323.4 V326.4 A14.6,4.4 0 0 0 558.6,326.4 V323.4" stroke="#1a1a1a" stroke-width="1.13" fill="#fff" />
<path d="M527.6,319.4 V323 A16.4,4.6 0 0 0 560.4,323 V319.4" stroke="#1a1a1a" stroke-width="1.24" fill="#fff" />
<ellipse cx="544" cy="319.4" rx="16.4" ry="4.1" stroke="#1a1a1a" stroke-width="1.24" fill="#fff" />
<path d="M528.2,321.2 A16.2,4.4 0 0 0 559.8,321.2" stroke="#1a1a1a" stroke-width="0.9" fill="none" />
</g>
<path d="M530,331 V339 A14,4.6 0 0 0 558,339 V331 A14,4.2 0 0 0 530,331 Z" stroke="#111" stroke-width="1.13" fill="#141414" />
<ellipse cx="544" cy="338.7" rx="12.4" ry="4.3" stroke="#111" stroke-width="1.36" fill="#fff" />
<ellipse cx="543.8" cy="338.7" rx="6.4" ry="2.5" stroke="#111" stroke-width="1.47" fill="#fff" />
<ellipse cx="543.8" cy="338.9" rx="3.2" ry="1.2" stroke="none" stroke-width="0" fill="#555" />
<path d="M523.3,319 A27,16.3 0 1 1 523.3,340" stroke="#1a1a1a" stroke-width="1.24" fill="none" stroke-dasharray="5.5 2.6"/>
<polygon points="517.6,321.2 525.1,315.1 526.9,318.4" fill="#111"/>
<polygon points="518.6,338.4 527.9,341.2 526.1,344.5" fill="#111"/>
<rect x="462.6" y="459.8" width="6.2" height="7.2" stroke="#1a1a1a" stroke-width="1.13" fill="#fff" />
<rect x="463.6" y="461.4" width="3" height="4" stroke="#1a1a1a" stroke-width="1.02" fill="#fff" />
<path d="M462.8,460.6 C460.4,460 458.8,456.6 457.4,453.8 C456.4,452 454.2,452.2 453,454 C451.2,457.2 451.4,460.6 451.4,464.2 C451.4,468 452.2,471.6 454,474.6 C455.2,476.4 457.2,476.6 458.2,474.8 C459.8,471.6 460.4,467.6 462.8,466.8 Z" stroke="#1a1a1a" stroke-width="1.3" fill="#fff" />
<rect x="618" y="455" width="6.6" height="7.4" stroke="#1a1a1a" stroke-width="1.13" fill="#fff" />
<rect x="620.6" y="456.6" width="3" height="4.2" stroke="#1a1a1a" stroke-width="1.02" fill="#fff" />
<path d="M624.6,456 C627,455.4 628.6,452 630,449.2 C631,447.4 633.2,447.6 634.4,449.4 C636.4,452.6 637.2,456 637.2,459.6 C637.2,463.4 636.4,467 634.6,470 C633.4,471.8 631.4,472 630.4,470.2 C628.8,467 627,463.2 624.6,462.4 Z" stroke="#1a1a1a" stroke-width="1.3" fill="#fff" />
<ellipse cx="543.4" cy="488.7" rx="74.3" ry="57.1" stroke="#1a1a1a" stroke-width="1.13" fill="#fff" />
<path d="M527.6,434 V458 M562.4,432.6 V457" stroke="#1a1a1a" stroke-width="1.02" fill="none" />
<path d="M527.8,456 C528,466 535,471.6 545,471.6 C555,471.6 562,466 562.2,455" stroke="#1a1a1a" stroke-width="1.47" fill="none" />
<path d="M531,458 C532,466 538,469.4 545,469.4 C552,469.4 558,466 559.4,457" stroke="#1a1a1a" stroke-width="1.02" fill="none" />
<path d="M531,452.6 C532,447 538,444.2 545,444.2 C552,444.2 558,447 559.4,452.6 C556,456.6 551,458.4 545,458.4 C539,458.4 534,456.6 531,452.6 Z" stroke="#1a1a1a" stroke-width="1.13" fill="#2a2a2a" />
<path d="M534,453.4 C537.5,457.6 552.5,457.6 556.4,453.4 C552,450.6 538,450.6 534,453.4 Z" stroke="none" stroke-width="0" fill="#fff" />
<path d="M619,466 L622.6,467 L623.4,486 L620,487 Z" stroke="#1a1a1a" stroke-width="1.13" fill="#fff" />
<path d="M622.8,470 C625,472 625.2,478 623.2,481" stroke="#1a1a1a" stroke-width="1.13" fill="none" />
<g>
<ellipse cx="544.6" cy="495.2" rx="58" ry="44" stroke="#222" stroke-width="4.4" fill="none"/><ellipse cx="544.6" cy="495.2" rx="58" ry="44" stroke="#fff" stroke-width="1.9" fill="none"/>
<ellipse cx="543.4" cy="501" rx="41" ry="31.2" stroke="#222" stroke-width="4.4" fill="none"/><ellipse cx="543.4" cy="501" rx="41" ry="31.2" stroke="#fff" stroke-width="1.9" fill="none"/>
<path d="M527.4,491.3 Q511.5,468 496.7,444.3" stroke="#1a1a1a" stroke-width="4.6" fill="none"/><path d="M527.4,491.3 Q511.5,468 496.7,444.3" stroke="#fff" stroke-width="2.0" fill="none"/>
<path d="M552.1,488.6 Q561,462 571.9,435.9" stroke="#1a1a1a" stroke-width="4.6" fill="none"/><path d="M552.1,488.6 Q561,462 571.9,435.9" stroke="#fff" stroke-width="2.0" fill="none"/>
<path d="M518.5,507.9 Q494,504.6 470.2,498.4" stroke="#1a1a1a" stroke-width="4.6" fill="none"/><path d="M518.5,507.9 Q494,504.6 470.2,498.4" stroke="#fff" stroke-width="2.0" fill="none"/>
<path d="M566.9,503.4 Q593,494.4 617.2,482.1" stroke="#1a1a1a" stroke-width="4.6" fill="none"/><path d="M566.9,503.4 Q593,494.4 617.2,482.1" stroke="#fff" stroke-width="2.0" fill="none"/>
<path d="M534.4,523.1 Q527,534 517.4,542.2" stroke="#1a1a1a" stroke-width="4.6" fill="none"/><path d="M534.4,523.1 Q527,534 517.4,542.2" stroke="#fff" stroke-width="2.0" fill="none"/>
<path d="M557.4,520.4 Q573,528.4 589.5,533.5" stroke="#1a1a1a" stroke-width="4.6" fill="none"/><path d="M557.4,520.4 Q573,528.4 589.5,533.5" stroke="#fff" stroke-width="2.0" fill="none"/>
<ellipse cx="543.4" cy="488.7" rx="74.3" ry="57.1" stroke="#222" stroke-width="4.8" fill="none"/><ellipse cx="543.4" cy="488.7" rx="74.3" ry="57.1" stroke="#fff" stroke-width="2.2" fill="none"/>
<ellipse cx="542.7" cy="505.7" rx="24.4" ry="18.5" stroke="#222" stroke-width="4.8" fill="#fff"/><ellipse cx="542.7" cy="505.7" rx="24.4" ry="18.5" stroke="#fff" stroke-width="2.2" fill="none"/>
</g>
<path d="M489.6,436.2 L499,430.6 L501.4,437 L492.6,443.8 L489.8,443.6 Z" stroke="#1a1a1a" stroke-width="1.24" fill="#fff" />
<ellipse cx="494.4" cy="433.6" rx="4.6" ry="3.4" stroke="#1a1a1a" stroke-width="1.36" fill="#fff" transform="rotate(-32 494.4 433.6)" />
<ellipse cx="494.2" cy="433.4" rx="2.6" ry="1.8" stroke="#1a1a1a" stroke-width="1.13" fill="#888" transform="rotate(-32 494.2 433.4)" />
<path d="M509.6,543.6 L520.6,546 L520.2,548.4 L509.2,546 Z" stroke="#1a1a1a" stroke-width="1.13" fill="#fff" />
</g>
<g transform="translate(308,5)">
<path d="M543.6,341 C544.6,352 550.6,362 551,386" stroke="#1a1a1a" stroke-width="5.6" fill="none"/><path d="M543.6,341 C544.6,352 550.6,362 551,386" stroke="#fff" stroke-width="3.4" fill="none"/>
<line x1="547.6" y1="375.6" x2="553.6" y2="375.4" stroke="#1a1a1a" stroke-width="1.02" />
<path d="M468.6,480 C469,477.7 469.7,470.3 470.8,466 C471.9,461.7 473.2,459.1 475,454.4 C476.8,449.7 478.6,443.9 481.4,438 C484.2,432.1 487.5,424.9 491.6,419 C495.7,413.1 500.6,407.1 506,402.4 C511.4,397.7 517.5,393.9 524,391 C530.5,388.1 538.7,385.6 545,385 C551.3,384.4 555.8,385.2 562,387.3 C568.2,389.4 576.3,393.5 582,397.6 C587.7,401.7 592,406.4 596.2,412 C600.4,417.6 604.6,423.8 607.4,431 C610.2,438.2 611.4,448.7 613,455 C614.6,461.3 615.9,464.5 616.8,469 C617.7,473.5 618.3,479.8 618.6,482 Z" stroke="#1a1a1a" stroke-width="1.3" fill="#fff" />
<path d="M519.5,326.8 C518.1,326.9 514.1,326.3 511,327.6 C507.9,328.9 503.8,331.5 501,334.6 C498.2,337.7 496.3,340.9 494,346.4 C491.7,351.9 489.5,359.3 487.2,367.5 C484.9,375.7 482.5,385.9 480.3,395.7 C478.1,405.5 475.8,416.8 474.2,426.2 C472.6,435.6 471.6,445.9 470.8,452 C470,458.1 469.8,461.2 469.6,463 L472.6,463 C472.8,461.2 472.9,457.8 473.8,452 C474.7,446.2 476,437.2 477.8,428 C479.6,418.8 482.5,406.2 484.8,396.5 C487.1,386.8 489.4,377.5 491.8,369.5 C494.2,361.5 496.7,353.6 499,348.7 C501.3,343.8 503.2,342.3 505.4,340.2 C507.6,338.1 510,336.8 512.4,336 C514.8,335.2 518.3,335.3 519.5,335.2 Z" stroke="#1a1a1a" stroke-width="1.3" fill="#fff" />
<path d="M511.5,330.8 C510.1,331.8 505.3,334 502.7,336.7 C500.1,339.5 498.2,342 495.9,347.3 C493.6,352.5 491.3,360.1 488.9,368.3 C486.6,376.4 484.2,386.2 482,396 C479.8,405.8 477.2,417.6 475.6,426.9 C473.9,436.2 472.5,447.8 471.9,452" stroke="#1a1a1a" stroke-width="0.96" fill="none" />
<path d="M570,326.6 C571.1,326.6 573.7,325.5 576.8,326.6 C579.9,327.7 585.4,330.1 588.5,333.4 C591.6,336.7 593.1,340.3 595.6,346.4 C598.1,352.5 601.3,361.6 603.8,369.8 C606.3,378 608.6,386.1 610.8,395.7 C613,405.3 615.5,417.7 616.9,427.6 C618.3,437.5 618.5,448.6 619,455 C619.5,461.4 619.8,464.2 620,466 L617.6,466 C617.5,464.2 617.5,461.3 616.8,455 C616.1,448.7 615.4,438.1 613.6,428.4 C611.8,418.7 608.7,406.6 606.2,397 C603.7,387.4 601.4,379.1 598.8,371 C596.2,362.9 593.1,353.8 590.6,348.6 C588.1,343.4 586.5,342.2 584,340 C581.5,337.8 577.8,336.2 575.5,335.4 C573.2,334.6 570.9,335.1 570,335 Z" stroke="#1a1a1a" stroke-width="1.3" fill="#fff" />
<path d="M576.3,329.9 C578.1,330.9 583.9,333 586.8,335.9 C589.7,338.8 591.2,341.5 593.7,347.2 C596.2,353 599.3,362.1 601.9,370.3 C604.5,378.4 606.8,386.6 609.1,396.2 C611.3,405.8 614.1,418.1 615.6,427.9 C617.2,437.7 617.7,450.5 618.2,455" stroke="#1a1a1a" stroke-width="0.96" fill="none" />
<path d="M519.5,326.8 H570 V335 H519.5 Z" stroke="#1a1a1a" stroke-width="1.24" fill="#fff" />
<line x1="519.5" y1="329.4" x2="570" y2="329.4" stroke="#1a1a1a" stroke-width="0.96" />
<path d="M522.4,326.8 V335 M566.8,326.8 V335" stroke="#1a1a1a" stroke-width="1.02" fill="none" />
<g transform="translate(0,0)">
<path d="M529.4,323.4 V326.4 A14.6,4.4 0 0 0 558.6,326.4 V323.4" stroke="#1a1a1a" stroke-width="1.13" fill="#fff" />
<path d="M527.6,319.4 V323 A16.4,4.6 0 0 0 560.4,323 V319.4" stroke="#1a1a1a" stroke-width="1.24" fill="#fff" />
<ellipse cx="544" cy="319.4" rx="16.4" ry="4.1" stroke="#1a1a1a" stroke-width="1.24" fill="#fff" />
<path d="M528.2,321.2 A16.2,4.4 0 0 0 559.8,321.2" stroke="#1a1a1a" stroke-width="0.9" fill="none" />
</g>
<path d="M530,331 V339 A14,4.6 0 0 0 558,339 V331 A14,4.2 0 0 0 530,331 Z" stroke="#111" stroke-width="1.13" fill="#141414" />
<ellipse cx="544" cy="338.7" rx="12.4" ry="4.3" stroke="#111" stroke-width="1.36" fill="#fff" />
<ellipse cx="543.8" cy="338.7" rx="6.4" ry="2.5" stroke="#111" stroke-width="1.47" fill="#fff" />
<ellipse cx="543.8" cy="338.9" rx="3.2" ry="1.2" stroke="none" stroke-width="0" fill="#555" />
<path d="M523.3,319 A27,16.3 0 1 1 523.3,340" stroke="#1a1a1a" stroke-width="1.24" fill="none" stroke-dasharray="5.5 2.6"/>
<polygon points="517.6,321.2 525.1,315.1 526.9,318.4" fill="#111"/>
<polygon points="518.6,338.4 527.9,341.2 526.1,344.5" fill="#111"/>
<rect x="462.6" y="459.8" width="6.2" height="7.2" stroke="#1a1a1a" stroke-width="1.13" fill="#fff" />
<rect x="463.6" y="461.4" width="3" height="4" stroke="#1a1a1a" stroke-width="1.02" fill="#fff" />
<path d="M462.8,460.6 C460.4,460 458.8,456.6 457.4,453.8 C456.4,452 454.2,452.2 453,454 C451.2,457.2 451.4,460.6 451.4,464.2 C451.4,468 452.2,471.6 454,474.6 C455.2,476.4 457.2,476.6 458.2,474.8 C459.8,471.6 460.4,467.6 462.8,466.8 Z" stroke="#1a1a1a" stroke-width="1.3" fill="#fff" />
<rect x="618" y="455" width="6.6" height="7.4" stroke="#1a1a1a" stroke-width="1.13" fill="#fff" />
<rect x="620.6" y="456.6" width="3" height="4.2" stroke="#1a1a1a" stroke-width="1.02" fill="#fff" />
<path d="M624.6,456 C627,455.4 628.6,452 630,449.2 C631,447.4 633.2,447.6 634.4,449.4 C636.4,452.6 637.2,456 637.2,459.6 C637.2,463.4 636.4,467 634.6,470 C633.4,471.8 631.4,472 630.4,470.2 C628.8,467 627,463.2 624.6,462.4 Z" stroke="#1a1a1a" stroke-width="1.3" fill="#fff" />
<ellipse cx="543.4" cy="488.7" rx="74.3" ry="57.1" stroke="#1a1a1a" stroke-width="1.13" fill="#fff" />
<path d="M527.6,434 V458 M562.4,432.6 V457" stroke="#1a1a1a" stroke-width="1.02" fill="none" />
<path d="M527.8,456 C528,466 535,471.6 545,471.6 C555,471.6 562,466 562.2,455" stroke="#1a1a1a" stroke-width="1.47" fill="none" />
<path d="M531,458 C532,466 538,469.4 545,469.4 C552,469.4 558,466 559.4,457" stroke="#1a1a1a" stroke-width="1.02" fill="none" />
<path d="M531,452.6 C532,447 538,444.2 545,444.2 C552,444.2 558,447 559.4,452.6 C556,456.6 551,458.4 545,458.4 C539,458.4 534,456.6 531,452.6 Z" stroke="#1a1a1a" stroke-width="1.13" fill="#2a2a2a" />
<path d="M534,453.4 C537.5,457.6 552.5,457.6 556.4,453.4 C552,450.6 538,450.6 534,453.4 Z" stroke="none" stroke-width="0" fill="#fff" />
<path d="M619,466 L622.6,467 L623.4,486 L620,487 Z" stroke="#1a1a1a" stroke-width="1.13" fill="#fff" />
<path d="M622.8,470 C625,472 625.2,478 623.2,481" stroke="#1a1a1a" stroke-width="1.13" fill="none" />
<g>
<ellipse cx="544.6" cy="495.2" rx="58" ry="44" stroke="#222" stroke-width="4.4" fill="none"/><ellipse cx="544.6" cy="495.2" rx="58" ry="44" stroke="#fff" stroke-width="1.9" fill="none"/>
<ellipse cx="543.4" cy="501" rx="41" ry="31.2" stroke="#222" stroke-width="4.4" fill="none"/><ellipse cx="543.4" cy="501" rx="41" ry="31.2" stroke="#fff" stroke-width="1.9" fill="none"/>
<path d="M527.4,491.3 Q511.5,468 496.7,444.3" stroke="#1a1a1a" stroke-width="4.6" fill="none"/><path d="M527.4,491.3 Q511.5,468 496.7,444.3" stroke="#fff" stroke-width="2.0" fill="none"/>
<path d="M552.1,488.6 Q561,462 571.9,435.9" stroke="#1a1a1a" stroke-width="4.6" fill="none"/><path d="M552.1,488.6 Q561,462 571.9,435.9" stroke="#fff" stroke-width="2.0" fill="none"/>
<path d="M518.5,507.9 Q494,504.6 470.2,498.4" stroke="#1a1a1a" stroke-width="4.6" fill="none"/><path d="M518.5,507.9 Q494,504.6 470.2,498.4" stroke="#fff" stroke-width="2.0" fill="none"/>
<path d="M566.9,503.4 Q593,494.4 617.2,482.1" stroke="#1a1a1a" stroke-width="4.6" fill="none"/><path d="M566.9,503.4 Q593,494.4 617.2,482.1" stroke="#fff" stroke-width="2.0" fill="none"/>
<path d="M534.4,523.1 Q527,534 517.4,542.2" stroke="#1a1a1a" stroke-width="4.6" fill="none"/><path d="M534.4,523.1 Q527,534 517.4,542.2" stroke="#fff" stroke-width="2.0" fill="none"/>
<path d="M557.4,520.4 Q573,528.4 589.5,533.5" stroke="#1a1a1a" stroke-width="4.6" fill="none"/><path d="M557.4,520.4 Q573,528.4 589.5,533.5" stroke="#fff" stroke-width="2.0" fill="none"/>
<ellipse cx="543.4" cy="488.7" rx="74.3" ry="57.1" stroke="#222" stroke-width="4.8" fill="none"/><ellipse cx="543.4" cy="488.7" rx="74.3" ry="57.1" stroke="#fff" stroke-width="2.2" fill="none"/>
<ellipse cx="542.7" cy="505.7" rx="24.4" ry="18.5" stroke="#222" stroke-width="4.8" fill="#fff"/><ellipse cx="542.7" cy="505.7" rx="24.4" ry="18.5" stroke="#fff" stroke-width="2.2" fill="none"/>
</g>
<path d="M489.6,436.2 L499,430.6 L501.4,437 L492.6,443.8 L489.8,443.6 Z" stroke="#1a1a1a" stroke-width="1.24" fill="#fff" />
<ellipse cx="494.4" cy="433.6" rx="4.6" ry="3.4" stroke="#1a1a1a" stroke-width="1.36" fill="#fff" transform="rotate(-32 494.4 433.6)" />
<ellipse cx="494.2" cy="433.4" rx="2.6" ry="1.8" stroke="#1a1a1a" stroke-width="1.13" fill="#888" transform="rotate(-32 494.2 433.4)" />
<path d="M509.6,543.6 L520.6,546 L520.2,548.4 L509.2,546 Z" stroke="#1a1a1a" stroke-width="1.13" fill="#fff" />
</g>
<text x="225.4" y="306" font-family="&quot;Liberation Serif&quot;, serif" font-size="14.5" text-anchor="start" fill="#222" font-weight="normal" font-style="normal" textLength="28.5" lengthAdjust="spacingAndGlyphs" transform="rotate(2 225.4 306)">300°</text>
<text x="534.4" y="312.6" font-family="&quot;Liberation Serif&quot;, serif" font-size="14.5" text-anchor="start" fill="#222" font-weight="normal" font-style="italic" textLength="27" lengthAdjust="spacingAndGlyphs" transform="rotate(3 534.4 312.6)">300°</text>
<text x="841.8" y="317.8" font-family="&quot;Liberation Serif&quot;, serif" font-size="14.5" text-anchor="start" fill="#222" font-weight="normal" font-style="italic" textLength="27" lengthAdjust="spacingAndGlyphs" transform="rotate(3 841.8 317.8)">300°</text>
<circle cx="647.5" cy="242.2" r="45.6" stroke="#1a1a1a" stroke-width="1.24" fill="#fff" />
<path d="M604.3,256.5 A45.6,45.6 0 0 0 613.7,272.8" stroke="#fff" stroke-width="2.8" fill="none" />
<path d="M604.3,256.5 L547,287.4 L613.7,272.8" stroke="#1a1a1a" stroke-width="1.13" fill="#fff" />
<path d="M604.3,256.5 L613.7,272.8" stroke="#fff" stroke-width="2.2" fill="none" />
<clipPath id="tc"><circle cx="647.5" cy="242.2" r="45"/></clipPath>
<g clip-path="url(#tc)">
<path d="M627.6,203 V222 M630.8,203 V222 M660.8,203 V222 M664,203 V222" stroke="#333" stroke-width="1.02" fill="none" />
<path d="M639.4,196 V212.6 H644.2 V222 M654.2,196 V212.6 H649.2 V222" stroke="#333" stroke-width="1.13" fill="none" />
<path d="M627.6,265.4 V290 M630.8,265.4 V290 M644.4,265.4 V290 M647.6,265.4 V290 M660.8,265.4 V290 M664,265.4 V290 M627.6,265.4 h3.2 M644.4,265.4 h3.2 M660.8,265.4 h3.2" stroke="#333" stroke-width="1.02" fill="none" />
<path d="M644.6,277 h3" stroke="#333" stroke-width="1.58" fill="none" />
<rect x="624.6" y="222" width="12.4" height="38.6" stroke="#444" stroke-width="1.02" fill="#fff" />
<rect x="640.6" y="222" width="12.4" height="38.6" stroke="#444" stroke-width="1.02" fill="#fff" />
<rect x="656.6" y="222" width="12.4" height="38.6" stroke="#444" stroke-width="1.02" fill="#fff" />
<path d="M649.4,213 L673.4,240 M647.4,266 L662,252 L673.6,242.6" stroke="#333" stroke-width="1.02" fill="none" />
<circle cx="630.8" cy="232.4" r="4.4" stroke="#1a1a1a" stroke-width="1.69" fill="#fff" />
<line x1="627.9" y1="235.3" x2="633.7" y2="229.5" stroke="#1a1a1a" stroke-width="1.47" />
<circle cx="630.8" cy="251.2" r="4.4" stroke="#1a1a1a" stroke-width="1.69" fill="#fff" />
<line x1="627.9" y1="254.1" x2="633.7" y2="248.3" stroke="#1a1a1a" stroke-width="1.47" />
<circle cx="646.6" cy="232.4" r="4.4" stroke="#1a1a1a" stroke-width="1.69" fill="#fff" />
<line x1="643.7" y1="235.3" x2="649.5" y2="229.5" stroke="#1a1a1a" stroke-width="1.47" />
<circle cx="646.6" cy="251.2" r="4.4" stroke="#1a1a1a" stroke-width="1.69" fill="#fff" />
<line x1="643.7" y1="254.1" x2="649.5" y2="248.3" stroke="#1a1a1a" stroke-width="1.47" />
<circle cx="662.6" cy="232.4" r="4.4" stroke="#1a1a1a" stroke-width="1.69" fill="#fff" />
<line x1="659.7" y1="235.3" x2="665.5" y2="229.5" stroke="#1a1a1a" stroke-width="1.47" />
<circle cx="662.6" cy="251.2" r="4.4" stroke="#1a1a1a" stroke-width="1.69" fill="#fff" />
<line x1="659.7" y1="254.1" x2="665.5" y2="248.3" stroke="#1a1a1a" stroke-width="1.47" />
<circle cx="638.6" cy="241.8" r="3.3" stroke="#1a1a1a" stroke-width="1.24" fill="#fff" />
<path d="M636.8,240 l3.6,3.6 M640.4,240 l-3.6,3.6" stroke="#444" stroke-width="1.02" fill="none" />
<circle cx="654" cy="241.8" r="3.3" stroke="#1a1a1a" stroke-width="1.24" fill="#fff" />
<path d="M652.2,240 l3.6,3.6 M655.8,240 l-3.6,3.6" stroke="#444" stroke-width="1.02" fill="none" />
</g>
<path d="M682.6,259.4 L690.4,259.5" stroke="#1a1a1a" stroke-width="1.24" fill="none" />
<circle cx="680.6" cy="242.2" r="7" stroke="#1a1a1a" stroke-width="1.13" fill="#fff" />
<path d="M680.6,236.4 V243 M675.8,243 h9.6 M677.4,245 h6.4 M679,247 h3.2" stroke="#333" stroke-width="1.02" fill="none" />
<line x1="673.6" y1="242.4" x2="687.6" y2="242.4" stroke="#555" stroke-width="0.79" />
<text x="614.6" y="228.2" font-family="&quot;Liberation Sans&quot;, sans-serif" font-size="14.5" text-anchor="start" fill="#111" font-weight="bold" font-style="normal" >L</text>
<text x="614.6" y="263.2" font-family="&quot;Liberation Sans&quot;, sans-serif" font-size="14.5" text-anchor="start" fill="#111" font-weight="bold" font-style="normal" >L</text>
<text x="669.6" y="228.2" font-family="&quot;Liberation Sans&quot;, sans-serif" font-size="14.5" text-anchor="start" fill="#111" font-weight="bold" font-style="normal" >N</text>
<text x="669.6" y="263.2" font-family="&quot;Liberation Sans&quot;, sans-serif" font-size="14.5" text-anchor="start" fill="#111" font-weight="bold" font-style="normal" >N</text>
<circle cx="613.6" cy="240.6" r="8.8" stroke="#222" stroke-width="1.13" fill="#fff" /><text x="613.6" y="245.9" font-family="&quot;Liberation Serif&quot;, serif" font-size="16" text-anchor="middle" fill="#111" font-weight="normal" font-style="normal" >4</text>
<circle cx="975.2" cy="146.2" r="9.9" stroke="#222" stroke-width="1.13" fill="#fff" /><text x="975.2" y="151.8" font-family="&quot;Liberation Serif&quot;, serif" font-size="17" text-anchor="middle" fill="#111" font-weight="normal" font-style="normal" >1</text>
<line x1="958" y1="160.4" x2="978" y2="160.4" stroke="#555" stroke-width="1.02" />
<polygon points="987.6,160.4 976.1,162.4 976.1,158.4" fill="#111"/>
<path d="M964.2,171.5 A8,36.8 0 1 1 964.7,229.5" stroke="#333" stroke-width="1.07" fill="none"/>
<polygon points="961.4,183.2 962.4,171.1 966.1,171.9" fill="#111"/>
<polygon points="961.7,218 966.6,229 962.9,230" fill="#111"/>
<line x1="968" y1="242.2" x2="986" y2="242.2" stroke="#555" stroke-width="1.02" />
<polygon points="958.8,242.2 970.3,240.2 970.3,244.2" fill="#111"/>
<circle cx="977.2" cy="255.8" r="9.9" stroke="#222" stroke-width="1.13" fill="#fff" /><text x="977.2" y="261.4" font-family="&quot;Liberation Serif&quot;, serif" font-size="17" text-anchor="middle" fill="#111" font-weight="normal" font-style="normal" >6</text>
<line x1="920" y1="168.2" x2="920" y2="181" stroke="#777" stroke-width="1.02" /><polygon points="920,158.2 922.2,169.2 917.8,169.2" fill="#111"/>
<circle cx="935.5" cy="173.6" r="9.8" stroke="#222" stroke-width="1.13" fill="#fff" /><text x="935.5" y="179.2" font-family="&quot;Liberation Serif&quot;, serif" font-size="17" text-anchor="middle" fill="#111" font-weight="normal" font-style="normal" >2</text>
<circle cx="852.8" cy="210.6" r="9.8" stroke="#222" stroke-width="1.13" fill="#fff" /><text x="852.8" y="216.2" font-family="&quot;Liberation Serif&quot;, serif" font-size="17" text-anchor="middle" fill="#111" font-weight="normal" font-style="normal" >3</text>
<line x1="869.2" y1="208.4" x2="869.2" y2="222" stroke="#777" stroke-width="1.02" /><polygon points="869.2,198.4 871.4,209.4 867,209.4" fill="#111"/>
<path d="M872.4,216.4 C873,209 882,206.4 890.4,206.6 C899,206.8 906.4,209.4 907,214.6" stroke="#555" stroke-width="1.02" fill="none" />
<polygon points="896.2,225.6 904.8,215.6 909.8,218.8" fill="#111"/>
<line x1="948" y1="290.6" x2="948" y2="306.6" stroke="#777" stroke-width="1.02" /><polygon points="948,280.6 950.2,291.6 945.8,291.6" fill="#111"/>
<circle cx="963.6" cy="295.4" r="9.8" stroke="#222" stroke-width="1.13" fill="#fff" /><text x="963.6" y="301" font-family="&quot;Liberation Serif&quot;, serif" font-size="17" text-anchor="middle" fill="#111" font-weight="normal" font-style="normal" >5</text>
<circle cx="334.8" cy="405" r="9.9" stroke="#222" stroke-width="1.13" fill="#fff" /><text x="334.8" y="409.9" font-family="&quot;Liberation Serif&quot;, serif" font-size="20" text-anchor="middle" fill="#111" font-weight="normal" font-style="normal" >a</text>
<circle cx="339.6" cy="504" r="9.9" stroke="#222" stroke-width="1.13" fill="#fff" /><text x="339.6" y="508.9" font-family="&quot;Liberation Serif&quot;, serif" font-size="20" text-anchor="middle" fill="#111" font-weight="normal" font-style="normal" >c</text>
<path d="M332.8,425.6 A8.8,36.4 0 1 1 333.4,484.8" stroke="#333" stroke-width="1.07" fill="none"/>
<polygon points="329.7,436.4 330.9,425.1 334.6,426.1" fill="#111"/>
<polygon points="330,474 335.2,484.2 331.6,485.4" fill="#111"/>
<circle cx="112.4" cy="458" r="9.9" stroke="#222" stroke-width="1.13" fill="#fff" /><text x="112.4" y="463.6" font-family="&quot;Liberation Serif&quot;, serif" font-size="19" text-anchor="middle" fill="#111" font-weight="normal" font-style="normal" >b</text>
<path d="M136.8,387 C129,425 129,492 135.6,524" stroke="#1a1a1a" stroke-width="1.13" fill="none" />
<polygon points="137.8,377.2 137.8,388.9 133.8,388.2" fill="#111"/>
<polygon points="136.6,533.6 132.6,522.6 136.6,521.9" fill="#111"/>
<path d="M236.4,514 C262,515.4 288,522 299.6,536 C308.6,548 304.6,562 290.6,574.4" stroke="#1a1a1a" stroke-width="1.24" fill="none" />
<polygon points="284.2,579 290.6,571.7 292.8,574.6" fill="#111"/>
<line x1="308.5" y1="541.5" x2="308.5" y2="555.6" stroke="#777" stroke-width="1.02" /><polygon points="308.5,531.5 310.7,542.5 306.3,542.5" fill="#111"/>
<circle cx="324.3" cy="542.2" r="9.8" stroke="#222" stroke-width="1.13" fill="#fff" /><text x="324.3" y="547.8" font-family="&quot;Liberation Serif&quot;, serif" font-size="17" text-anchor="middle" fill="#111" font-weight="normal" font-style="normal" >7</text>
<line x1="305.1" y1="592.6" x2="305.1" y2="599.6" stroke="#777" stroke-width="1.02" /><polygon points="305.1,584.6 307.2,593.6 303,593.6" fill="#111"/>
<circle cx="318.6" cy="593" r="8.2" stroke="#222" stroke-width="1.13" fill="#fff" /><text x="318.6" y="598" font-family="&quot;Liberation Serif&quot;, serif" font-size="15.5" text-anchor="middle" fill="#111" font-weight="normal" font-style="normal" >9</text>
<circle cx="350" cy="577.2" r="9.6" stroke="#222" stroke-width="1.13" fill="#fff" /><text x="350" y="582.8" font-family="&quot;Liberation Serif&quot;, serif" font-size="17" text-anchor="middle" fill="#111" font-weight="normal" font-style="normal" >8</text>
<line x1="335.6" y1="591.5" x2="352" y2="591.5" stroke="#555" stroke-width="1.02" />
<polygon points="361.8,591.5 350.3,593.5 350.3,589.5" fill="#111"/>
<path d="M339.4,601.5 A8.2,36.8 0 1 1 340,661.5" stroke="#333" stroke-width="1.07" fill="none"/>
<polygon points="336.3,614 337.5,601 341.2,602" fill="#111"/>
<polygon points="336.6,650 341.8,661 338.2,662" fill="#111"/>
<line x1="344" y1="673.6" x2="359.8" y2="673.6" stroke="#555" stroke-width="1.02" />
<polygon points="334.4,673.6 345.9,671.6 345.9,675.6" fill="#111"/>
<circle cx="352" cy="685.8" r="9.9" stroke="#222" stroke-width="1.13" fill="#fff" /><text x="352" y="691.8" font-family="&quot;Liberation Serif&quot;, serif" font-size="18" text-anchor="middle" fill="#111" font-weight="normal" font-style="normal" textLength="16" lengthAdjust="spacingAndGlyphs" >10</text>
</svg>
</body>
</html>
